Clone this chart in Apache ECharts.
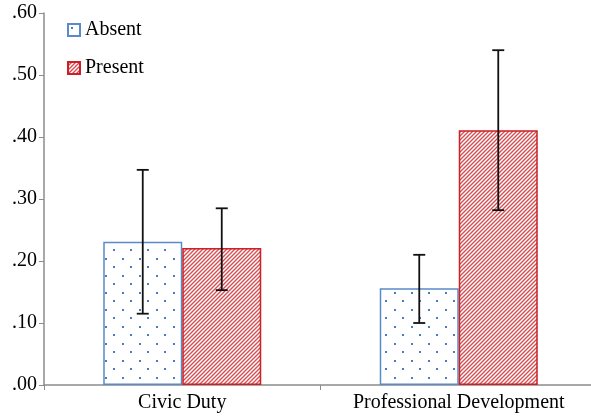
<!DOCTYPE html>
<html><head><meta charset="utf-8">
<script src="https://cdn.jsdelivr.net/npm/echarts@6/dist/echarts.min.js"></script>
<style>html,body{margin:0;padding:0;background:#fff}#c{width:591px;height:419px}</style>
</head><body><div id="c"></div>
<script>
var categories = ['Civic Duty', 'Professional Development'];
var seriesNames = ['Absent', 'Present'];
var absentValues = [0.231, 0.156];
var presentValues = [0.221, 0.411];
var absentLow = [0.115, 0.100];
var absentHigh = [0.347, 0.210];
var presentLow = [0.153, 0.282];
var presentHigh = [0.285, 0.540];

function dotPattern() {
  var c = document.createElement('canvas'); c.width = 17; c.height = 17;
  var g = c.getContext('2d');
  g.fillStyle = '#fff'; g.fillRect(0, 0, 17, 17);
  g.fillStyle = '#4a7cc8';
  g.fillRect(3, 3, 2, 2);
  g.fillRect(11, 11, 2, 2);
  return c;
}
function stripePattern() {
  var s = 4;
  var c = document.createElement('canvas'); c.width = s; c.height = s;
  var g = c.getContext('2d');
  g.fillStyle = '#fff'; g.fillRect(0, 0, s, s);
  g.strokeStyle = '#d24f53'; g.lineWidth = 1.4;
  g.beginPath();
  g.moveTo(-1, s + 1); g.lineTo(s + 1, -1);
  g.moveTo(-1 - s, s + 1); g.lineTo(1, -1);
  g.moveTo(s - 1, s + 1); g.lineTo(2 * s + 1, -1);
  g.stroke();
  return c;
}

var chart = echarts.init(document.getElementById('c'));
var font = "'Liberation Serif', 'Times New Roman', serif";
var barW = 79;

function errSeries(lows, highs, offset) {
  var data = categories.map(function (c, i) { return [i, lows[i], highs[i]]; });
  return {
    type: 'custom',
    silent: true,
    z: 10,
    renderItem: function (params, api) {
      var lo = api.coord([api.value(0), api.value(1)]);
      var hi = api.coord([api.value(0), api.value(2)]);
      var x = lo[0] + offset;
      var cw = 6;
      var st = { stroke: '#111', lineWidth: 1.8 };
      return {
        type: 'group',
        children: [
          { type: 'line', shape: { x1: x, y1: hi[1], x2: x, y2: lo[1] }, style: st },
          { type: 'line', shape: { x1: x - cw, y1: hi[1], x2: x + cw, y2: hi[1] }, style: st },
          { type: 'line', shape: { x1: x - cw, y1: lo[1], x2: x + cw, y2: lo[1] }, style: st }
        ]
      };
    },
    encode: { x: 0, y: [1, 2] },
    data: data
  };
}

chart.setOption({
  animation: false,
  textStyle: { fontFamily: font },
  grid: { left: 44, width: 553, top: 13, bottom: 34, containLabel: false, outerBoundsMode: 'none' },
  legend: {
    orient: 'vertical', left: 62, top: 15, itemGap: 18,
    itemWidth: 12, itemHeight: 12, icon: 'rect',
    textStyle: { fontFamily: font, fontSize: 20, color: '#000' },
    data: seriesNames
  },
  xAxis: {
    type: 'category', data: categories,
    axisLine: { lineStyle: { color: '#8c8c8c', width: 1.5 } },
    axisTick: { show: true, length: 5, lineStyle: { color: '#8c8c8c' } },
    axisLabel: { fontFamily: font, fontSize: 20, color: '#000', margin: 8, interval: 0, hideOverlap: false }
  },
  yAxis: {
    type: 'value', min: 0, max: 0.6, interval: 0.1,
    splitLine: { show: false },
    axisLine: { show: true, lineStyle: { color: '#8c8c8c', width: 1.5 } },
    axisTick: { show: true, length: 5, lineStyle: { color: '#8c8c8c' } },
    axisLabel: {
      fontFamily: font, fontSize: 20, color: '#000', margin: 7,
      formatter: function (v) { return v.toFixed(2).replace(/^0/, ''); }
    }
  },
  series: [
    {
      name: seriesNames[0], type: 'bar', data: absentValues, barWidth: barW, barGap: '0%',
      itemStyle: { color: { image: dotPattern(), repeat: 'repeat' }, borderColor: '#5a8ac8', borderWidth: 1.5 }
    },
    {
      name: seriesNames[1], type: 'bar', data: presentValues, barWidth: barW, barGap: '0%',
      itemStyle: { color: { image: stripePattern(), repeat: 'repeat' }, borderColor: '#cc1f26', borderWidth: 1.5 }
    },
    errSeries(absentLow, absentHigh, -barW / 2),
    errSeries(presentLow, presentHigh, barW / 2)
  ]
});
</script></body></html>
